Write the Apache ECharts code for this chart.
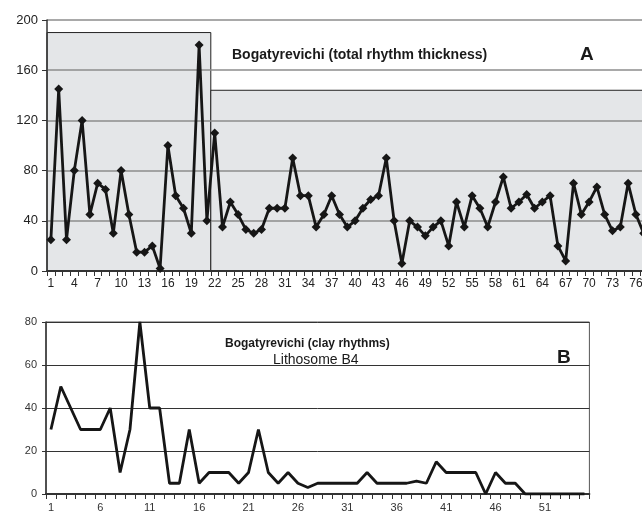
<!DOCTYPE html>
<html><head><meta charset="utf-8">
<script src="https://cdn.jsdelivr.net/npm/echarts@6/dist/echarts.min.js"></script>
<style>html,body{margin:0;padding:0;background:#fff}#c{width:642px;height:516px}</style>
</head><body><div id="c"></div>
<script>
// Chart A: total rhythm thickness
const valuesA = [25,145,25,80,120,45,70,65,30,80,45,15,15,20,2,100,60,50,30,180,40,110,35,55,45,33,30,33,50,50,50,90,60,60,35,45,60,45,35,40,50,57,60,90,40,6,40,35,28,35,40,20,55,35,60,50,35,55,75,50,55,61,50,55,60,20,8,70,45,55,67,45,32,35,70,45,30];
const categoriesA = valuesA.map((_, i) => String(i + 1));
// segment averages (shaded blocks): start index, end index (1-based), level
const segStart = [1, 22];
const segEnd = [21, 77];
const segLevel = [190, 144];
const yTicksA = [0, 40, 80, 120, 160, 200];

// Chart B: clay rhythms
const valuesB = [30,50,40,30,30,30,40,10,30,80,40,40,5,5,30,5,10,10,10,5,10,30,10,5,10,5,3,5,5,5,5,5,10,5,5,5,5,6,5,15,10,10,10,10,0,10,5,5,0,0,0,0,0,0,0];
const categoriesB = valuesB.map((_, i) => String(i + 1));
const yTicksB = [0, 20, 40, 60, 80];

const font = 'Liberation Sans, Arial, sans-serif';
const segData = segStart.map((s, i) => [s - 1, segEnd[i] - 1, segLevel[i]]);

const chart = echarts.init(document.getElementById('c'), null, {renderer: 'canvas'});
chart.setOption({
  animation: false,
  backgroundColor: '#fff',
  title: [
    {text: 'Bogatyrevichi (total rhythm thickness)', left: 227, top: 43,
     textStyle: {fontFamily: font, fontSize: 14, fontWeight: 'bold', color: '#1a1a1a'}},
    {text: 'A', left: 575, top: 40,
     textStyle: {fontFamily: font, fontSize: 19, fontWeight: 'bold', color: '#1a1a1a'}},
    {text: 'Bogatyrevichi (clay rhythms)', left: 220, top: 333,
     textStyle: {fontFamily: font, fontSize: 12, fontWeight: 'bold', color: '#1a1a1a'}},
    {text: 'Lithosome B4', left: 268, top: 348,
     textStyle: {fontFamily: font, fontSize: 14, fontWeight: 'normal', color: '#1a1a1a'}},
    {text: 'B', left: 552, top: 343,
     textStyle: {fontFamily: font, fontSize: 19, fontWeight: 'bold', color: '#1a1a1a'}}
  ],
  grid: [
    {left: 47, top: 20, width: valuesA.length * 7.8, height: 251, containLabel: false, outerBoundsMode: 'none'},
    {left: 46, top: 322, width: 543.4, height: 172, containLabel: false, outerBoundsMode: 'none', show: true, borderColor: '#555', borderWidth: 1, backgroundColor: 'transparent'}
  ],
  xAxis: [
    {type: 'category', gridIndex: 0, data: categoriesA, boundaryGap: true,
     axisLine: {lineStyle: {color: '#333', width: 2}},
     axisTick: {show: true, interval: 0, length: 5, lineStyle: {color: '#333', width: 1}},
     axisLabel: {interval: 2, fontFamily: font, fontSize: 12, color: '#222', margin: 7},
     splitLine: {show: false}},
    {type: 'category', gridIndex: 1, data: categoriesB, boundaryGap: true,
     axisLine: {lineStyle: {color: '#333', width: 2}},
     axisTick: {show: true, interval: 0, length: 5, lineStyle: {color: '#333', width: 1}},
     axisLabel: {interval: 4, fontFamily: font, fontSize: 11, color: '#333', margin: 8},
     splitLine: {show: false}}
  ],
  yAxis: [
    {type: 'value', gridIndex: 0, min: yTicksA[0], max: yTicksA[yTicksA.length - 1], interval: 40,
     axisLine: {show: true, lineStyle: {color: '#333', width: 1.5}},
     axisTick: {show: true, length: 5, lineStyle: {color: '#333'}},
     axisLabel: {fontFamily: font, fontSize: 13, color: '#222', margin: 9},
     splitLine: {show: true, lineStyle: {color: '#8c8c8c', width: 1.5}}},
    {type: 'value', gridIndex: 1, min: yTicksB[0], max: yTicksB[yTicksB.length - 1], interval: 20,
     axisLine: {show: true, lineStyle: {color: '#333', width: 1.5}},
     axisTick: {show: true, length: 4, lineStyle: {color: '#333'}},
     axisLabel: {fontFamily: font, fontSize: 11, color: '#333', margin: 9},
     splitLine: {show: true, lineStyle: {color: '#333', width: 1}}}
  ],
  series: [
    {type: 'custom', xAxisIndex: 0, yAxisIndex: 0, z: -1, silent: true,
     data: segData, encode: {x: 0, y: 2},
     renderItem: function (params, api) {
       const s = api.value(0), e = api.value(1), v = api.value(2);
       const bw = api.size([1, 0])[0];
       const p0 = api.coord([s, 0]);
       const p1 = api.coord([e, v]);
       return {type: 'rect',
         shape: {x: p0[0] - bw / 2, y: p1[1], width: p1[0] - p0[0] + bw, height: p0[1] - p1[1]},
         style: {fill: '#e4e6e8', stroke: '#222', lineWidth: 1}};
     }},
    {type: 'line', xAxisIndex: 0, yAxisIndex: 0, data: valuesA, z: 5,
     symbol: 'diamond', symbolSize: 9, showSymbol: true, showAllSymbol: true,
     itemStyle: {color: '#161616'},
     lineStyle: {color: '#161616', width: 2.8}},
    {type: 'line', xAxisIndex: 1, yAxisIndex: 1, data: valuesB, z: 5,
     symbol: 'none',
     lineStyle: {color: '#161616', width: 2.8}}
  ]
});
</script></body></html>
